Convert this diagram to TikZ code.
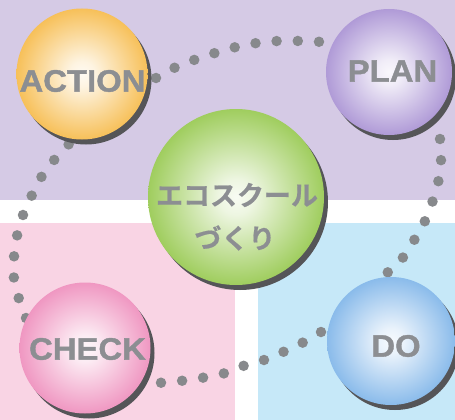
\documentclass[tikz,border=0pt]{standalone}
\usepackage{fontspec}
\setmainfont{Liberation Sans}
\newfontfamily\heavyfont{Liberation Sans Bold}[FakeBold=1.2]
\newfontfamily\jpfont{Noto Sans CJK JP Bold}[FakeBold=0.6]
\usetikzlibrary{shadows}
\definecolor{lav}{RGB}{213,202,229}
\definecolor{pinkbg}{RGB}{249,212,228}
\definecolor{bluebg}{RGB}{198,232,248}
\definecolor{dotgray}{RGB}{135,137,140}
\definecolor{txtgray}{RGB}{140,142,146}
\definecolor{shadowgray}{RGB}{85,85,88}
\definecolor{colA}{RGB}{245,178,52}
\definecolor{colP}{RGB}{158,132,206}
\definecolor{colG}{RGB}{138,194,58}
\definecolor{colC}{RGB}{236,128,180}
\definecolor{colD}{RGB}{112,172,230}
\newcommand\mkball[2]{\pgfdeclareradialshading{#1}{\pgfpoint{0bp}{0bp}}{color(0bp)=(#2!6!white); color(5bp)=(#2!15!white); color(14bp)=(#2!45!white); color(26bp)=(#2!85!white); color(34bp)=(#2); color(50bp)=(#2)}}
\mkball{ballA}{colA}
\mkball{ballP}{colP}
\mkball{ballG}{colG}
\mkball{ballC}{colC}
\mkball{ballD}{colD}
\begin{document}
\begin{tikzpicture}[x=1pt,y=-1pt,
  ball/.style={circle, inner sep=0pt, minimum size=#1,
    drop shadow={shadow xshift=4pt, shadow yshift=-5pt, fill=shadowgray, opacity=1}},
  dotline/.style={draw=dotgray, line width=10.5pt, line cap=round, dash pattern=on 0pt off 21.2pt},
  lbl/.style={text=txtgray, font=\heavyfont\fontsize{31}{31}\selectfont, xscale=1.06, inner sep=0pt},
  jlbl/.style={text=txtgray, font=\jpfont\fontsize{27}{27}\selectfont, inner sep=0pt}]
\useasboundingbox (0,0) rectangle (455,420);
% backgrounds
\fill[white] (0,0) rectangle (455,420);
\fill[lav] (0,0) rectangle (455,200);
\fill[pinkbg] (0,223) rectangle (235,420);
\fill[bluebg] (258,223) rectangle (455,420);
% dotted cycle
\draw[dotline] plot[smooth] coordinates {(156,78) (174,68) (194,60) (215,53) (236,47) (257,43) (278,41) (300,41) (322,42) (344,45) (360,50)};
\draw[dotline] plot[smooth] coordinates {(440,139) (441,161) (438,183) (432,203) (424,223) (413,242) (401,260) (387,273) (373,286) (360,298)};
\draw[dotline] plot[smooth] coordinates {(321,332) (302,343) (283,352) (264,360) (243,366) (222,374) (201,378) (180,381) (158,383) (140,385)};
\draw[dotline] plot[smooth] coordinates {(26,318) (19,299) (14,279) (14,257) (17,236) (23,215) (32,195) (42,176) (55,159) (69,144) (80,132)};
% spheres
\node[ball=131pt, shading=ballA] (action) at (82,74) {};
\node[ball=126pt, shading=ballP] (plan) at (389,72) {};
\node[ball=176pt, shading=ballG] (eco) at (236,197) {};
\node[ball=131pt, shading=ballC] (check) at (85,348) {};
\node[ball=128pt, shading=ballD] (do) at (391,341) {};
% labels
\node[lbl] (actiontxt) at (82.5,81) {ACTION};
\node[lbl] (plantxt) at (392.5,71) {PLAN};
\node[lbl] (checktxt) at (87.5,349) {CHECK};
\node[lbl] (dotxt) at (396,346) {DO};
\node[jlbl] (ecotxt1) at (237,195) {エコスクール};
\node[jlbl] (ecotxt2) at (235,238) {づくり};
\end{tikzpicture}
\end{document}
